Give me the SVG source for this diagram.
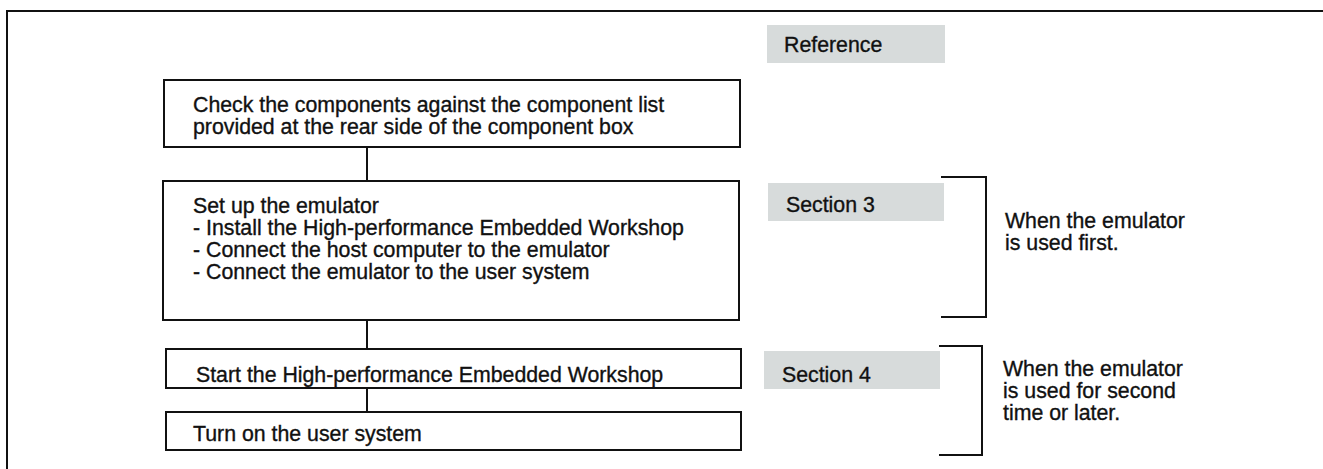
<svg xmlns="http://www.w3.org/2000/svg" width="1323" height="469" viewBox="0 0 1323 469">
<style>
text{font-family:"Liberation Sans",Arial,Helvetica,sans-serif;font-size:21.3px;fill:#111;stroke:#111;stroke-width:0.35}
.box{fill:#fff;stroke:#111;stroke-width:2}
.tag{fill:#d7dbdb}
.ln{fill:none;stroke:#111;stroke-width:2}
</style>
<rect width="1323" height="469" fill="#fff"/>
<g id="frame"><path class="ln" d="M7,469 V11 H1323"/></g>
<g id="connectors">
<line class="ln" x1="367" y1="148" x2="367" y2="180"/>
<line class="ln" x1="367" y1="321" x2="367" y2="348"/>
<line class="ln" x1="367" y1="388" x2="367" y2="411"/>
</g>
<g id="n1"><rect class="box" x="164" y="80" width="576" height="67"/>
<text x="193" y="112">Check the components against the component list</text>
<text x="193" y="134">provided at the rear side of the component box</text></g>
<g id="n2"><rect class="box" x="163" y="181" width="576" height="139"/>
<text x="193" y="213">Set up the emulator</text>
<text x="193" y="235">- Install the High-performance Embedded Workshop</text>
<text x="193" y="257">- Connect the host computer to the emulator</text>
<text x="193" y="279">- Connect the emulator to the user system</text></g>
<g id="n3"><rect class="box" x="166" y="349" width="575" height="39"/>
<text x="196" y="382">Start the High-performance Embedded Workshop</text></g>
<g id="n4"><rect class="box" x="166" y="412" width="575" height="38"/>
<text x="193" y="441">Turn on the user system</text></g>
<g id="ref"><rect class="tag" x="767" y="25" width="178" height="38"/>
<text x="784" y="52">Reference</text></g>
<g id="sec3"><rect class="tag" x="768" y="183" width="176" height="38"/>
<text x="786" y="212">Section 3</text></g>
<g id="sec4"><rect class="tag" x="764" y="351" width="176" height="38"/>
<text x="782" y="382">Section 4</text></g>
<g id="bracket1"><path class="ln" d="M941,177 H986 V317 H941"/>
<text x="1005" y="228">When the emulator</text>
<text x="1005" y="250">is used first.</text></g>
<g id="bracket2"><path class="ln" d="M939,346 H982 V455 H939"/>
<text x="1003" y="376">When the emulator</text>
<text x="1003" y="398">is used for second</text>
<text x="1003" y="420">time or later.</text></g>
</svg>
